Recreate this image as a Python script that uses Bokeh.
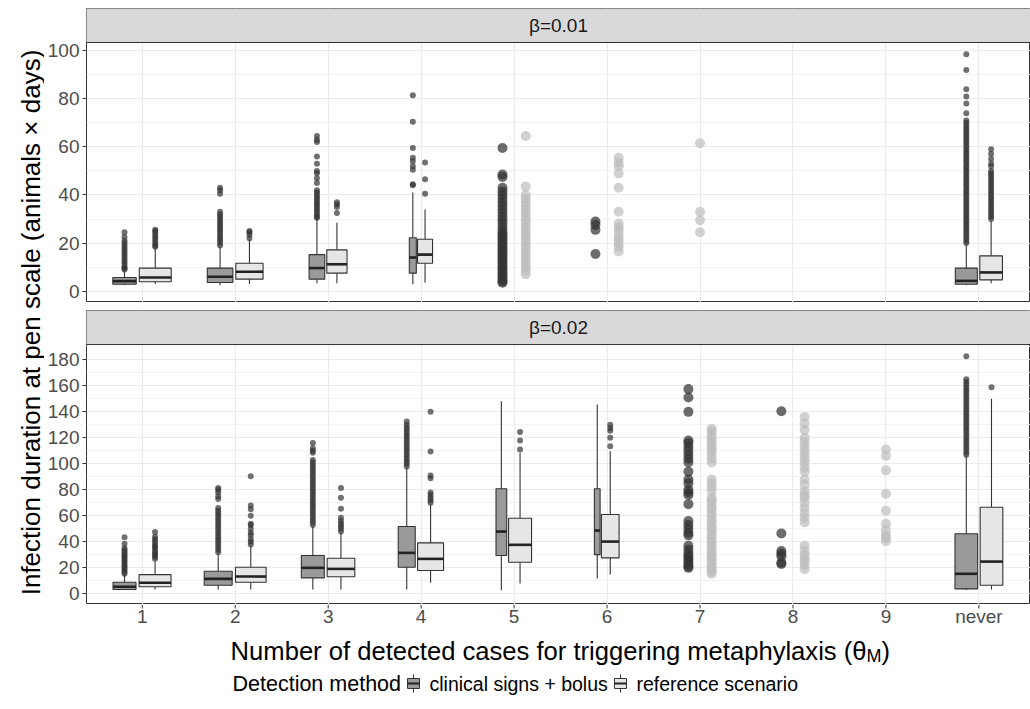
import numpy as np
from bokeh.plotting import figure
from bokeh.layouts import row, column
from bokeh.models import Range1d, FixedTicker, Grid
from bokeh.core.properties import value
from bokeh.embed import file_html
from bokeh.resources import INLINE

FONT = "Liberation Sans"

CATEGORIES = ["1", "2", "3", "4", "5", "6", "7", "8", "9", "never"]
GROUPS = ["clinical signs + bolus", "reference scenario"]
FACETS = ["β=0.01", "β=0.02"]
X_TITLE_MAIN = "Number of detected cases for triggering metaphylaxis (θ"
X_TITLE_SUB = "M"
X_TITLE_END = ")"
Y_TITLE = "Infection duration at pen scale (animals × days)"
LEGEND_TITLE = "Detection method"
Y1_TICKS = [0, 20, 40, 60, 80, 100]
Y2_TICKS = [0, 20, 40, 60, 80, 100, 120, 140, 160, 180]

# ---------------- beta = 0.01 : boxplots ----------------
B1_CATS = ["1", "2", "3", "4", "never"]
B1_DARK_N = [535, 640, 241, 48, 473]
B1_DARK_LOW = [2.5, 2.5, 3.3, 2.9, 2.5]
B1_DARK_Q1 = [2.9, 3.6, 5.0, 7.5, 2.9]
B1_DARK_MED = [4.2, 6.0, 9.6, 14.0, 4.3]
B1_DARK_Q3 = [5.7, 9.6, 15.2, 22.2, 9.6]
B1_DARK_UP = [8.5, 18.5, 30.0, 41.0, 19.4]
B1_DARK_OUT = [
    [9, 9.5, 10, 11, 12, 13, 14, 15, 16, 17, 18, 19, 20, 21, 22.5, 24.5],
    [19, 20, 21, 22, 23, 24, 25, 26, 27, 28, 29, 30, 31, 32, 33, 40.5, 42, 43],
    [30.5, 31, 32, 33, 34, 35, 36, 37, 38, 39, 40, 41, 42, 45, 47, 49, 50, 53, 56, 62, 63, 64.5],
    [44, 44.5, 50.5, 52, 54, 55.5, 59.5, 70.5, 81.5],
    [20, 21, 22, 23, 24, 25, 26, 27, 28, 29, 30, 31, 32, 33, 34, 35, 36, 37, 38, 39, 40,
     41, 42, 43, 44, 45, 46, 47, 48, 49, 50, 51, 52, 53, 54, 55, 56, 57, 58, 59, 60, 61,
     62, 63, 64, 65, 66, 67, 68, 69, 70, 71, 74, 78, 81, 84, 92, 98.5],
]
B1_LIGHT_N = [1000, 728, 402, 220, 503]
B1_LIGHT_LOW = [3.0, 3.0, 3.3, 3.6, 3.3]
B1_LIGHT_Q1 = [3.9, 5.0, 7.5, 11.6, 4.7]
B1_LIGHT_MED = [5.7, 8.1, 11.2, 15.2, 7.8]
B1_LIGHT_Q3 = [9.6, 11.6, 17.2, 21.6, 14.7]
B1_LIGHT_UP = [18.2, 21.6, 28.5, 34.0, 29.2]
B1_LIGHT_OUT = [
    [18.5, 19, 20, 21, 22, 23, 24, 25, 25.5],
    [22, 23.5, 24.5, 25],
    [32.5, 35, 36, 37],
    [40.5, 46.5, 53.5],
    [30, 31, 32, 33, 34, 35, 36, 37, 38, 39, 40, 41, 42, 43, 44, 45, 46, 47, 48, 49, 50,
     52, 53, 55, 57, 59],
]
# beta = 0.01 : few-run scenarios shown as points
P1_DARK_CATS = ["5", "6"]
P1_DARK_VALS = [
    [59.5, 48.5, 47.5, 43, 41.5, 40, 38.5, 37, 35.5, 34, 32.5, 31, 29.5, 28, 26.5, 25, 24,
     23, 22, 21, 20, 19, 18, 17, 16, 15, 14, 13, 12, 11, 10, 9, 8, 7, 6, 5, 4, 3.5],
    [29, 27.5, 25.5, 15.5],
]
P1_LIGHT_CATS = ["5", "6", "7"]
P1_LIGHT_VALS = [
    [64.5, 43.5, 40, 38.5, 37, 35.5, 34, 32.5, 31, 29.5, 28, 26.5, 25, 23.5, 22, 20.5, 19,
     17.5, 16, 14.5, 13, 11.5, 10, 8.5, 7],
    [55.5, 53.5, 52, 49, 43, 33, 28, 26.5, 25, 23, 21.5, 20, 18.5, 16.5],
    [61.5, 33, 29.5, 24.5],
]

# ---------------- beta = 0.02 : boxplots ----------------
B2_CATS = ["1", "2", "3", "4", "5", "6", "never"]
B2_DARK_N = [517, 766, 517, 282, 112, 32, 503]
B2_DARK_LOW = [3.0, 3.3, 3.3, 3.3, 2.8, 11.8, 3.0]
B2_DARK_Q1 = [3.3, 6.6, 12.3, 20.5, 29.5, 30.2, 3.8]
B2_DARK_MED = [5.4, 11.5, 20.0, 31.5, 47.9, 48.7, 15.4]
B2_DARK_Q3 = [8.9, 17.4, 29.5, 51.8, 80.8, 80.8, 46.2]
B2_DARK_UP = [14.8, 30.8, 52.0, 97.0, 148.2, 145.6, 106.6]
B2_DARK_OUT = [
    [15.5, 17, 18.5, 20, 21.5, 23, 24.5, 26, 27.5, 29, 30.5, 32, 33.5, 35, 38.5, 43.5],
    [32, 34, 36, 38, 40, 42, 44, 46, 48, 50, 52, 54, 56, 58, 60, 62, 64, 66, 73, 75, 78, 80, 81.5],
    [53, 55, 57, 59, 61, 63, 65, 67, 69, 71, 73, 75, 77, 79, 81, 83, 85, 87, 89, 91, 93, 95,
     97, 99, 101, 103, 108.5, 110, 112, 116],
    [98, 100, 102, 104, 106, 108, 110, 112, 114, 116, 118, 120, 122, 124, 126, 128, 130, 132.5],
    [],
    [],
    [107, 109, 111, 113, 115, 117, 119, 121, 123, 125, 127, 129, 131, 133, 135, 137, 139,
     141, 143, 145, 147, 149, 151, 153, 155, 157, 159, 161, 163, 165, 182.8],
]
B2_LIGHT_N = [1000, 920, 749, 660, 517, 306, 503]
B2_LIGHT_LOW = [3.3, 3.3, 3.3, 8.5, 7.9, 14.8, 3.3]
B2_LIGHT_Q1 = [5.4, 8.9, 13.1, 17.9, 24.3, 27.7, 6.6]
B2_LIGHT_MED = [8.5, 13.3, 19.2, 26.9, 37.7, 40.2, 24.8]
B2_LIGHT_Q3 = [14.8, 20.5, 27.4, 39.2, 58.2, 61.0, 66.6]
B2_LIGHT_UP = [25.1, 36.6, 46.9, 68.7, 108.5, 109.7, 150.0]
B2_LIGHT_OUT = [
    [27, 28.5, 30, 31.5, 33, 35, 36.5, 38, 40, 42, 44, 47.5],
    [38, 40, 42, 45, 47, 50, 53, 54, 60, 65, 68, 90.5],
    [48, 50, 52, 54, 56, 58.5, 65.5, 74, 81.5],
    [70, 72, 74, 76, 78, 89, 91, 109.5, 140],
    [111, 118, 124.5],
    [113.5, 120, 125.5, 127.5, 130],
    [159],
]
P2_DARK_CATS = ["7", "8"]
P2_DARK_VALS = [
    [157.5, 151, 140, 118, 116, 113, 110, 107, 104, 101, 94, 88, 85, 80, 78, 76, 69, 56, 53,
     50, 47, 45, 37, 34, 31, 29, 27, 25, 23, 21, 20],
    [140.5, 46.5, 33, 31, 29, 24, 23],
]
P2_LIGHT_CATS = ["7", "8", "9"]
P2_LIGHT_VALS = [
    [127, 125, 122, 120, 117, 115, 112, 110, 107, 104, 101, 88, 85, 82, 79, 74, 72, 70, 67,
     65, 62, 60, 57, 55, 52, 50, 48, 45, 43, 40, 38, 36, 33, 31, 29, 27, 25, 23, 21, 19, 17, 15.5],
    [136, 131, 126, 120, 117, 113.5, 110, 107, 104, 101, 97, 94, 88, 84, 79, 76, 74, 70, 66,
     62, 58.5, 55, 37, 33, 30, 27, 25, 22, 19],
    [111, 106, 95, 77, 64, 54, 49, 45, 43, 40.5],
]

# ---------------- styling / layout ----------------
DARK_FILL = "#9a9a9a"
LIGHT_FILL = "#e6e6e6"
LINE = "#333333"
GRID_MAJOR = "#ebebeb"
GRID_MINOR = "#f3f3f3"
TICK_TXT = "#4d4d4d"
X_LO, X_HI = 0.4, 10.555
BOX_UNIT = 0.382 / np.sqrt(1000.0)
PANEL_W, LEFT_W = 986, 44
PANEL_PX, STRIP_PX, GAP_PX = 260, 34, 8


def cat_x(c):
    return CATEGORIES.index(c) + 1


def draw_boxes(p, cats, dn, dl, dq1, dmed, dq3, du, dout, ln, ll, lq1, lmed, lq3, lu, lout):
    for i, c in enumerate(cats):
        xc = cat_x(c)
        w0 = BOX_UNIT * np.sqrt(dn[i])
        w1 = BOX_UNIT * np.sqrt(ln[i])
        start = xc - (w0 + w1) / 2
        xs = [start + w0 / 2, start + w0 + w1 / 2]
        ws = [w0 * 0.9, w1 * 0.9]
        stats = [(dl[i], dq1[i], dmed[i], dq3[i], du[i], dout[i], DARK_FILL),
                 (ll[i], lq1[i], lmed[i], lq3[i], lu[i], lout[i], LIGHT_FILL)]
        for x, w, (lo, q1, med, q3, up, out, fill) in zip(xs, ws, stats):
            if out:
                p.scatter([x] * len(out), out, size=6, marker="circle",
                          fill_color="#333333", fill_alpha=0.7, line_color=None)
            p.segment([x, x], [q3, q1], [x, x], [up, lo], line_color=LINE, line_width=1.1)
            p.vbar(x=[x], width=w, bottom=[q1], top=[q3], fill_color=fill,
                   line_color=LINE, line_width=1.1)
            p.segment([x - w / 2], [med], [x + w / 2], [med], line_color="#222222",
                      line_width=2.6)


def draw_points(p, dcats, dvals, lcats, lvals):
    for cats, vals, col, alpha, other in ((dcats, dvals, "#333333", 0.72, lcats),
                                          (lcats, lvals, "#bdbdbd", 0.7, dcats)):
        for c, v in zip(cats, vals):
            xc = cat_x(c)
            if c in other:
                xc = xc - 0.125 if col == "#333333" else xc + 0.125
            p.scatter([xc] * len(v), v, size=10, marker="circle", fill_color=col,
                      fill_alpha=alpha, line_color=None)


def panel(yr, ticks, label):
    y0, y1 = yr
    per_px = (y1 - y0) / PANEL_PX
    strip_top = y1 + STRIP_PX * per_px
    p = figure(width=PANEL_W, height=GAP_PX + STRIP_PX + PANEL_PX,
               x_range=Range1d(X_LO, X_HI), y_range=Range1d(y0, strip_top),
               output_backend="svg", toolbar_location=None, x_axis_location=None,
               min_border_left=LEFT_W - 2, min_border_right=0, min_border_top=GAP_PX,
               min_border_bottom=0)
    for g in p.grid:
        if g.dimension == 0:
            g.visible = False
    p.background_fill_color = "white"
    p.border_fill_color = "white"
    p.outline_line_color = LINE
    p.outline_line_width = 1
    minors = [t + 10 for t in ticks if t + 10 < y1]
    tk = FixedTicker(ticks=ticks, minor_ticks=minors)
    p.yaxis.ticker = tk
    p.ygrid.ticker = tk
    p.ygrid.grid_line_color = GRID_MAJOR
    p.ygrid.grid_line_width = 1.2
    p.ygrid.minor_grid_line_color = GRID_MINOR
    p.ygrid.minor_grid_line_width = 1
    p.add_layout(Grid(dimension=0, ticker=FixedTicker(ticks=list(range(1, 11))),
                      grid_line_color=GRID_MAJOR, grid_line_width=1.2))
    ax = p.yaxis[0]
    ax.axis_line_color = None
    ax.major_tick_line_color = LINE
    ax.major_tick_out = 4
    ax.major_tick_in = 0
    ax.minor_tick_line_color = None
    ax.major_label_text_font = FONT
    ax.major_label_text_font_size = "19px"
    ax.major_label_text_color = TICK_TXT
    ax.major_label_standoff = 3
    # facet strip on top of the panel
    p.quad(left=[X_LO - 1], right=[X_HI + 1], bottom=[y1], top=[strip_top + 5],
           fill_color="#d9d9d9", line_color=LINE, line_width=1.2)
    p.text(x=[(X_LO + X_HI) / 2], y=[(y1 + strip_top) / 2], text=[label],
           text_align="center", text_baseline="middle", text_font=value(FONT),
           text_font_size="19px", text_color="#1a1a1a")
    return p


p1 = panel((-4.7, 103.4), Y1_TICKS, FACETS[0])
draw_boxes(p1, B1_CATS, B1_DARK_N, B1_DARK_LOW, B1_DARK_Q1, B1_DARK_MED, B1_DARK_Q3,
           B1_DARK_UP, B1_DARK_OUT, B1_LIGHT_N, B1_LIGHT_LOW, B1_LIGHT_Q1, B1_LIGHT_MED,
           B1_LIGHT_Q3, B1_LIGHT_UP, B1_LIGHT_OUT)
draw_points(p1, P1_DARK_CATS, P1_DARK_VALS, P1_LIGHT_CATS, P1_LIGHT_VALS)

p2 = panel((-8.2, 191.8), Y2_TICKS, FACETS[1])
draw_boxes(p2, B2_CATS, B2_DARK_N, B2_DARK_LOW, B2_DARK_Q1, B2_DARK_MED, B2_DARK_Q3,
           B2_DARK_UP, B2_DARK_OUT, B2_LIGHT_N, B2_LIGHT_LOW, B2_LIGHT_Q1, B2_LIGHT_MED,
           B2_LIGHT_Q3, B2_LIGHT_UP, B2_LIGHT_OUT)
draw_points(p2, P2_DARK_CATS, P2_DARK_VALS, P2_LIGHT_CATS, P2_LIGHT_VALS)

# y-axis title column
COL_H = 2 * (GAP_PX + STRIP_PX + PANEL_PX)
yt = figure(width=LEFT_W, height=COL_H, x_range=Range1d(0, LEFT_W), y_range=Range1d(0, COL_H),
            output_backend="svg", toolbar_location=None, x_axis_location=None,
            y_axis_location=None, min_border=0)
yt.outline_line_color = None
for g in yt.grid:
    g.visible = False
yt.text(x=[30], y=[COL_H - 322], text=[Y_TITLE], angle=np.pi / 2, text_align="center",
        text_baseline="middle", text_font=value(FONT), text_font_size="26px",
        text_color="black")

# bottom: x ticks, x title, legend
BOT_H = 709 - COL_H
bt = figure(width=1030, height=BOT_H, x_range=Range1d(X_LO, X_HI), y_range=Range1d(0, BOT_H),
            output_backend="svg", toolbar_location=None, x_axis_location=None,
            y_axis_location=None, min_border_left=86, min_border_right=0, min_border_top=0,
            min_border_bottom=0)
bt.extra_x_ranges = {"px": Range1d(86, 1030)}
bt.outline_line_color = None
for g in bt.grid:
    g.visible = False
xs = [cat_x(c) for c in CATEGORIES]
bt.segment(xs, [BOT_H] * len(xs), xs, [BOT_H - 4] * len(xs), line_color=LINE, line_width=1)
bt.text(x=xs, y=[BOT_H - 12] * len(xs), text=CATEGORIES, text_align="center",
        text_baseline="middle", text_font=value(FONT), text_font_size="19px",
        text_color=TICK_TXT)
TX = 866
bt.text(x=[TX], y=[59], text=[X_TITLE_MAIN], text_align="right", text_baseline="alphabetic",
        text_font=value(FONT), text_font_size="25.6px", text_color="black", x_range_name="px")
bt.text(x=[TX], y=[54], text=[X_TITLE_SUB], text_align="left", text_baseline="alphabetic",
        text_font=value(FONT), text_font_size="18px", text_color="black", x_range_name="px")
bt.text(x=[TX + 15], y=[59], text=[X_TITLE_END], text_align="left", text_baseline="alphabetic",
        text_font=value(FONT), text_font_size="25.6px", text_color="black", x_range_name="px")

LY = 26
bt.text(x=[232], y=[LY], text=[LEGEND_TITLE], text_align="left", text_baseline="middle",
        text_font=value(FONT), text_font_size="21.5px", text_color="black", x_range_name="px")
for kx, tx, lab, fill in ((413, 429, GROUPS[0], DARK_FILL), (620, 636, GROUPS[1], LIGHT_FILL)):
    bt.segment([kx, kx], [LY + 5, LY - 5], [kx, kx], [LY + 9, LY - 9], line_color=LINE,
               line_width=1, x_range_name="px")
    bt.vbar(x=[kx], width=12, bottom=[LY - 5], top=[LY + 5], fill_color=fill, line_color=LINE,
            line_width=1, x_range_name="px")
    bt.segment([kx - 6], [LY], [kx + 6], [LY], line_color="#222222", line_width=2,
               x_range_name="px")
    bt.text(x=[tx], y=[LY], text=[lab], text_align="left", text_baseline="middle",
            text_font=value(FONT), text_font_size="19.5px", text_color="black",
            x_range_name="px")

layout = column(row(yt, column(p1, p2, spacing=0), spacing=0), bt, spacing=0)

open("out.html", "w").write(file_html(layout, INLINE, "Infection duration"))
